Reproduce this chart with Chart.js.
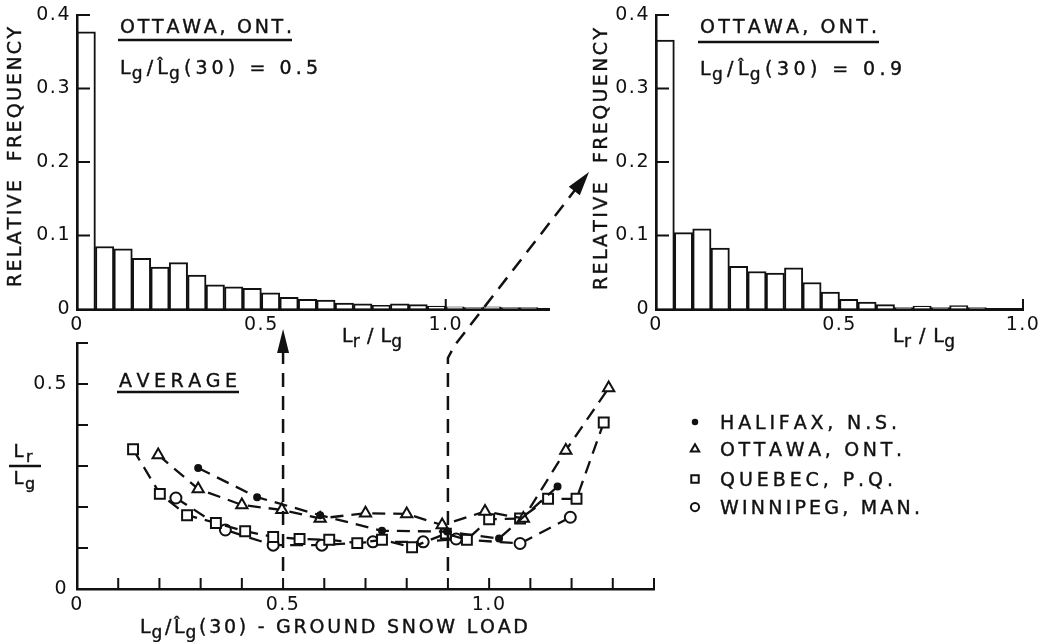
<!DOCTYPE html>
<html>
<head>
<meta charset="utf-8">
<script src="https://cdn.jsdelivr.net/npm/chart.js@4.4.0/dist/chart.umd.min.js"></script>
<style>
    html, body { margin: 0; padding: 0; background: #fff; }
    #wrap { position: relative; width: 1041px; height: 642px; overflow: hidden; }
    #wrap canvas { position: absolute; left: 0; top: 0; }
</style>
</head>
<body>
<div id="wrap">
    <canvas id="histLow" width="1041" height="642"></canvas>
    <canvas id="histHigh" width="1041" height="642"></canvas>
    <canvas id="average" width="1041" height="642"></canvas>
</div>
<script>
// histogram bins (centre of each 0.05 wide Lr/Lg class)
const binCenters = [0.025, 0.075, 0.125, 0.175, 0.225, 0.275, 0.325, 0.375, 0.425, 0.475,
    0.525, 0.575, 0.625, 0.675, 0.725, 0.775, 0.825, 0.875, 0.925, 0.975,
    1.025, 1.075, 1.125, 1.175, 1.225];
// Ottawa, Lg/Lg(30) = 0.5
const freqLow = [0.377, 0.085, 0.082, 0.069, 0.057, 0.063, 0.046, 0.033, 0.030, 0.028,
    0.022, 0.016, 0.013, 0.012, 0.008, 0.007, 0.005, 0.007, 0.006, 0.004,
    0.003, 0.002, 0.003, 0.002, 0.002];
// Ottawa, Lg/Lg(30) = 0.9
const freqHigh = [0.366, 0.104, 0.109, 0.083, 0.058, 0.051, 0.049, 0.056, 0.036, 0.023,
    0.013, 0.0095, 0.006, 0.002, 0.004, 0.002, 0.0045, 0.002];

// average Lr/Lg against Lg/Lg(30)
const cities = ['HALIFAX, N.S.', 'OTTAWA, ONT.', 'QUEBEC, P.Q.', 'WINNIPEG, MAN.'];
const halifaxX = [0.294, 0.437, 0.59, 0.74, 0.898, 1.024, 1.166];
const halifaxY = [0.295, 0.224, 0.18, 0.142, 0.14, 0.123, 0.25];
const ottawaX = [0.197, 0.294, 0.40, 0.497, 0.59, 0.70, 0.80, 0.886, 0.99, 1.083, 1.186, 1.29];
const ottawaY = [0.327, 0.244, 0.205, 0.193, 0.172, 0.185, 0.183, 0.156, 0.189, 0.172, 0.338, 0.49];
const quebecX = [0.136, 0.201, 0.267, 0.337, 0.408, 0.476, 0.54, 0.612, 0.68, 0.74, 0.813, 0.895, 0.946, 1.0, 1.075, 1.143, 1.212, 1.278];
const quebecY = [0.341, 0.232, 0.18, 0.161, 0.141, 0.127, 0.122, 0.12, 0.112, 0.12, 0.102, 0.135, 0.12, 0.17, 0.172, 0.22, 0.22, 0.406];
const winnipegX = [0.24, 0.36, 0.476, 0.594, 0.718, 0.84, 0.92, 1.075, 1.197];
const winnipegY = [0.222, 0.144, 0.107, 0.107, 0.115, 0.115, 0.122, 0.111, 0.175];

// the two Lg/Lg(30) values picked out by the arrows
const arrowAt = [0.5, 0.9];

const INK = '#111';
const FONT = '"DejaVu Sans", sans-serif';
Chart.defaults.font.family = FONT;
Chart.defaults.font.size = 19;
Chart.defaults.color = INK;

const fmt = v => Math.abs(v) < 1e-9 ? '0' : Number(v).toFixed(1);

function fixBox(w, h) {
    return s => {
        if (w != null) s.width = w;
        if (h != null) s.height = h;
        s.paddingTop = s.paddingBottom = s.paddingLeft = s.paddingRight = 0;
    };
}

// "_x" marks a subscript letter
function parseSub(str) {
    const glyphs = [];
    const parts = str.match(/_.|.[\u0300-\u036f]*/gu) || [];
    parts.forEach(p => {
        if (p[0] === '_' && p.length > 1) glyphs.push({ g: p.slice(1), sub: true });
        else glyphs.push({ g: p, sub: false });
    });
    return glyphs;
}

// lettering-style text, stretched to a given width
function spaced(ctx, str, x, y, size, width, align) {
    const glyphs = parseSub(str);
    const fontFor = sub => (sub ? Math.round(size * 0.9) : size) + 'px ' + FONT;
    ctx.save();
    ctx.fillStyle = INK;
    ctx.strokeStyle = INK;
    ctx.lineWidth = 0.4;
    ctx.textAlign = 'left';
    ctx.textBaseline = 'alphabetic';
    ctx.letterSpacing = '0px';
    let natural = 0, weights = 0;
    glyphs.forEach((o, i) => {
        ctx.font = fontFor(o.sub);
        o.w = ctx.measureText(o.g).width;
        natural += o.w;
        if (i > 0) { o.k = o.sub ? 0.3 : 1; weights += o.k; } else o.k = 0;
    });
    const sp = width ? (width - natural) / Math.max(weights, 1) : 0;
    const total = width || natural;
    let cx = align === 'center' ? x - total / 2 : x;
    glyphs.forEach(o => {
        cx += sp * o.k;
        ctx.font = fontFor(o.sub);
        const yy = y + (o.sub ? size * 0.28 : 0);
        ctx.fillText(o.g, cx, yy);
        ctx.strokeText(o.g, cx, yy);
        cx += o.w;
    });
    ctx.restore();
}

function hline(ctx, x1, x2, y, w) {
    ctx.save();
    ctx.strokeStyle = INK; ctx.lineWidth = w || 2.5;
    ctx.beginPath(); ctx.moveTo(x1, y); ctx.lineTo(x2, y); ctx.stroke();
    ctx.restore();
}

// tick marks drawn inward, as on the original drawing
function tickPath(chart, axis, len) {
    const { ctx, chartArea: a } = chart;
    const s = chart.scales[axis];
    ctx.save();
    ctx.strokeStyle = INK; ctx.lineWidth = 2;
    ctx.beginPath();
    s.ticks.forEach(t => {
        if (t.value <= s.min + 1e-9) return;
        const p = s.getPixelForValue(t.value);
        if (axis === 'x') { ctx.moveTo(p, a.bottom); ctx.lineTo(p, a.bottom - len); }
        else { ctx.moveTo(a.left, p); ctx.lineTo(a.left + len, p); }
    });
    ctx.stroke();
    ctx.restore();
}

const inTicks = {
    id: 'inTicks',
    beforeDraw(chart) { chart.ctx.letterSpacing = '1.5px'; },
    beforeDatasetsDraw(chart, args, opts) { tickPath(chart, 'x', opts.x); },
    afterDatasetsDraw(chart, args, opts) { tickPath(chart, 'y', opts.y); },
    afterDraw(chart) { chart.ctx.letterSpacing = '0px'; }
};

function yTitle(ctx, cx, cy, width) {
    ctx.save();
    ctx.translate(cx, cy);
    ctx.rotate(-Math.PI / 2);
    spaced(ctx, 'RELATIVE  FREQUENCY', 0, 7, 19, width, 'center');
    ctx.restore();
}

function histChart(id, freqs, xMax, pad, yWidth, texts) {
    return new Chart(document.getElementById(id), {
        type: 'bar',
        data: {
            datasets: [{
                data: freqs.map((f, i) => ({ x: binCenters[i], y: f })),
                backgroundColor: '#fff',
                borderColor: INK,
                borderWidth: 2,
                borderSkipped: 'bottom',
                barPercentage: 1,
                categoryPercentage: 1
            }]
        },
        options: {
            responsive: false,
            animation: false,
            events: [],
            layout: { padding: pad, autoPadding: false },
            plugins: { legend: { display: false }, tooltip: { enabled: false }, inTicks: { x: 10, y: 13 } },
            scales: {
                x: {
                    type: 'linear', offset: false, min: 0, max: xMax,
                    grid: { display: true, offset: false, drawOnChartArea: false, drawTicks: false },
                    border: { display: true, color: INK, width: 3 },
                    ticks: { stepSize: 0.5, includeBounds: false, padding: 5, maxRotation: 0, autoSkip: false, callback: fmt },
                    afterFit: fixBox(null, 40)
                },
                y: {
                    min: 0, max: 0.4,
                    grid: { display: true, drawOnChartArea: false, drawTicks: false },
                    border: { display: true, color: INK, width: 2.5 },
                    ticks: { stepSize: 0.1, padding: 6, callback: fmt },
                    afterFit: fixBox(yWidth, null)
                }
            }
        },
        plugins: [inTicks, { id: 'texts', afterDraw: chart => texts(chart.ctx) }]
    });
}

histChart('histLow', freqLow, 1.28, { left: 0, top: 15, right: 492, bottom: 293 }, 77, ctx => {
    spaced(ctx, 'OTTAWA, ONT.', 120, 33, 19, 172);
    hline(ctx, 118, 292, 40);
    spaced(ctx, 'L_g/L\u0302_g(30) = 0.5', 120, 74, 19, 198);
    yTitle(ctx, 14, 157, 260);
    spaced(ctx, 'L_r / L_g', 342, 342, 19, 60);
});

histChart('histHigh', freqHigh, 1.0, { left: 596, top: 15, right: 18, bottom: 293 }, 60, ctx => {
    spaced(ctx, 'OTTAWA, ONT.', 700, 33, 19, 177);
    hline(ctx, 698, 879, 42);
    spaced(ctx, 'L_g/L\u0302_g(30) = 0.9', 700, 75, 19, 202);
    yTitle(ctx, 600, 159, 262);
    spaced(ctx, 'L_r / L_g', 893, 342, 19, 62);
});

function series(label, xs, ys, style, r, fill) {
    return {
        label: label,
        data: xs.map((x, i) => ({ x: x, y: ys[i] })),
        showLine: true,
        borderColor: INK,
        borderWidth: 2.3,
        borderDash: [13, 8],
        pointStyle: style,
        pointRadius: r,
        pointBorderWidth: 2,
        pointBorderColor: INK,
        pointBackgroundColor: fill
    };
}

function arrowHead(ctx, tipX, tipY, fromX, fromY, len, half) {
    const dx = tipX - fromX, dy = tipY - fromY, d = Math.hypot(dx, dy);
    const ux = dx / d, uy = dy / d;
    const bx = tipX - ux * len, by = tipY - uy * len;
    ctx.beginPath();
    ctx.moveTo(tipX, tipY);
    ctx.lineTo(bx - uy * half, by + ux * half);
    ctx.lineTo(bx + uy * half, by - ux * half);
    ctx.closePath();
    ctx.fill();
}

const averagePlugin = {
    id: 'averageTexts',
    afterDraw(chart) {
        const ctx = chart.ctx;
        spaced(ctx, 'AVERAGE', 119, 387, 19, 118);
        hline(ctx, 117, 239, 392);
        spaced(ctx, 'L_r', 26, 457, 18, 25, 'center');
        hline(ctx, 9, 41, 466, 2.5);
        spaced(ctx, 'L_g', 26, 484, 18, 25, 'center');
        spaced(ctx, 'L_g/L\u0302_g(30) - GROUND SNOW LOAD', 140, 633, 19, 388);

        // legend from the datasets
        const rows = [422, 449, 479, 507];
        const ends = [897, 902, 893, 920];
        chart.data.datasets.forEach((ds, i) => {
            ctx.save();
            ctx.strokeStyle = INK;
            ctx.fillStyle = ds.pointBackgroundColor;
            ctx.lineWidth = 2;
            Chart.helpers.drawPoint(ctx, { pointStyle: ds.pointStyle, radius: ds.pointRadius * 0.75, borderWidth: 2, rotation: 0 }, 695, rows[i]);
            ctx.restore();
            spaced(ctx, ds.label, 720, rows[i] + 7, 19, ends[i] - 720);
        });

        // dashed arrows up to the two histograms
        const xs = chart.scales.x;
        const xa = xs.getPixelForValue(arrowAt[0]);
        const xb = xs.getPixelForValue(arrowAt[1]);
        ctx.save();
        ctx.strokeStyle = INK; ctx.fillStyle = INK;
        ctx.lineWidth = 2.5;
        ctx.setLineDash([14, 9]);
        ctx.beginPath();
        ctx.moveTo(xa, 571); ctx.lineTo(xa, 350);
        ctx.stroke();
        const tip = [589, 172], bend = [xb + 7, 345];
        const d = Math.hypot(tip[0] - bend[0], tip[1] - bend[1]);
        const ux = (tip[0] - bend[0]) / d, uy = (tip[1] - bend[1]) / d;
        ctx.beginPath();
        ctx.moveTo(xb, 571); ctx.lineTo(xb, 358); ctx.lineTo(bend[0], bend[1]);
        ctx.lineTo(tip[0] - ux * 20, tip[1] - uy * 20);
        ctx.stroke();
        ctx.setLineDash([]);
        arrowHead(ctx, xa, 329, xa, 400, 24, 6);
        arrowHead(ctx, tip[0], tip[1], bend[0], bend[1], 24, 7);
        ctx.restore();
    }
};

new Chart(document.getElementById('average'), {
    type: 'scatter',
    data: {
        datasets: [
            series(cities[0], halifaxX, halifaxY, 'circle', 3, INK),
            series(cities[1], ottawaX, ottawaY, 'triangle', 6.5, '#fff'),
            series(cities[2], quebecX, quebecY, 'rect', 7, '#fff'),
            series(cities[3], winnipegX, winnipegY, 'circle', 5.5, '#fff')
        ]
    },
    options: {
        responsive: false,
        animation: false,
        events: [],
        layout: { padding: { left: 0, top: 343, right: 387, bottom: 13 }, autoPadding: false },
        plugins: { legend: { display: false }, tooltip: { enabled: false }, inTicks: { x: 11, y: 11 } },
        scales: {
            x: {
                type: 'linear', min: 0, max: 1.4,
                grid: { display: true, drawOnChartArea: false, drawTicks: false },
                border: { display: true, color: INK, width: 2.5 },
                ticks: {
                    stepSize: 0.1, padding: 5, maxRotation: 0, autoSkip: false,
                    callback: v => [0, 0.5, 1].some(k => Math.abs(v - k) < 1e-6) ? fmt(v) : ''
                },
                afterFit: fixBox(null, 40)
            },
            y: {
                min: 0, max: 0.6,
                grid: { display: true, drawOnChartArea: false, drawTicks: false },
                border: { display: true, color: INK, width: 2.5 },
                ticks: {
                    stepSize: 0.1, padding: 9,
                    callback: v => [0, 0.5].some(k => Math.abs(v - k) < 1e-6) ? fmt(v) : ''
                },
                afterFit: fixBox(77, null)
            }
        }
    },
    plugins: [inTicks, averagePlugin]
});
</script>
</body>
</html>
